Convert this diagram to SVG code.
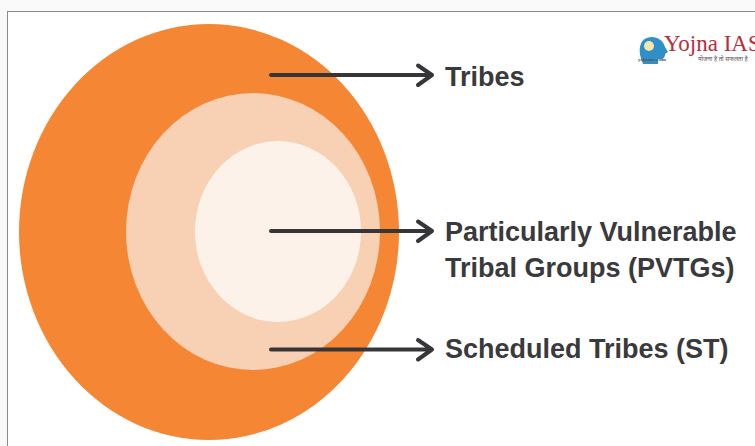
<svg xmlns="http://www.w3.org/2000/svg" width="755" height="446" viewBox="0 0 755 446">
<style>
.lbl{font-family:"Liberation Sans",Arial,sans-serif;font-weight:700;font-size:27px;fill:#3a3a3c}
.ln{fill:none;stroke:#363638;stroke-width:4;stroke-linecap:round;stroke-linejoin:round}
</style>
<rect width="755" height="446" fill="#fafafa"/>
<rect x="7.5" y="11.5" width="760" height="450" fill="#ffffff" stroke="#8a8a8a" stroke-width="1"/>
<g id="tribes-circle"><ellipse cx="209" cy="232" rx="190" ry="208" fill="#f58634"/></g>
<g id="st-circle"><ellipse cx="253" cy="231.500" rx="127" ry="138.500" fill="#f8d0b3"/></g>
<g id="pvtg-circle"><ellipse cx="278" cy="231.500" rx="83" ry="90.500" fill="#fdf2e9"/></g>
<g id="connectors">
<path class="ln" d="M271 75H432M418 65.500L432 75L418 85"/>
<path class="ln" d="M271 231H432M418 221.500L432 231L418 241"/>
<path class="ln" d="M271 349.500H432M418 340L432 349.500L418 359.500"/>
</g>
<g id="label-tribes"><text class="lbl" x="445" y="86">Tribes</text></g>
<g id="label-pvtgs"><text class="lbl" x="445" y="241">Particularly Vulnerable</text><text class="lbl" x="445" y="277">Tribal Groups (PVTGs)</text></g>
<g id="label-st"><text class="lbl" x="445" y="358">Scheduled Tribes (ST)</text></g>
<g id="logo">
<path d="M641 58C638 50 640 40 647 38C654 35 663 39 665 47L668 52L665 54C665 58 663 60 658 59L658 64H643Z" fill="#2f8fc9"/>
<circle cx="649" cy="46" r="5" fill="#f7e7a6"/>
<text x="664" y="51" font-family="'Liberation Serif',serif" font-size="23" fill="#b5303c">Yojna IAS</text>
<text x="638" y="61" font-family="'Liberation Serif',serif" font-size="5" font-weight="700" fill="#555">yojnaias.com</text>
<text x="698" y="61" font-family="'Noto Sans','Liberation Sans',sans-serif" font-size="6" fill="#555">योजना है तो सफलता है</text>
</g>
</svg>
